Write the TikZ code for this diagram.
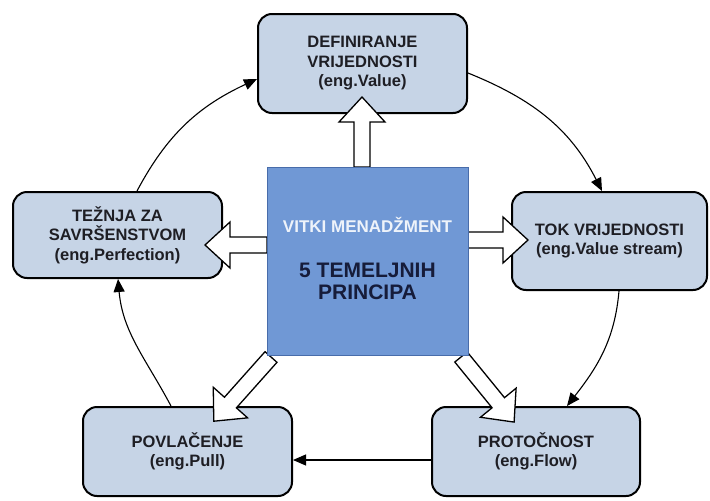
\documentclass[tikz,border=0pt]{standalone}
\usepackage{fontspec}
\setmainfont{Liberation Sans}
\usetikzlibrary{arrows.meta}
\definecolor{boxfill}{RGB}{198,212,230}
\definecolor{corefill}{RGB}{112,152,213}
\definecolor{coreline}{RGB}{72,108,170}
\definecolor{navy}{RGB}{22,28,58}
\definecolor{inktext}{RGB}{30,30,36}
\definecolor{leantext}{RGB}{238,243,250}
% block arrow: tail coordinate, direction angle, total length
\newcommand\fatShaft{8}
\newcommand\fatHead{23}
\newcommand\fatHeadLen{25}
\newcommand\fatarrow[3]{%
  \begin{scope}[shift={(#1)},rotate=#2]
    \draw[fat] (0,-\fatShaft) -- ({#3-\fatHeadLen},-\fatShaft) -- ({#3-\fatHeadLen},-\fatHead)
      -- (#3,0) -- ({#3-\fatHeadLen},\fatHead) -- ({#3-\fatHeadLen},\fatShaft) -- (0,\fatShaft) -- cycle;
  \end{scope}}
\begin{document}
\begin{tikzpicture}[x=1pt,y=1pt,
  stage/.style={draw=black, line width=2pt, fill=boxfill, rounded corners=14pt,
    align=center, font=\fontsize{16.5}{19.5}\selectfont\bfseries, text=inktext, inner sep=0pt},
  core/.style={draw=coreline, line width=1pt, fill=corefill, inner sep=0pt},
  loopline/.style={draw=black, line width=1.1pt, -{Triangle[length=13pt,width=11pt]}},
  fat/.style={draw=black, line width=1.3pt, fill=white, line join=miter}]
\useasboundingbox (0,0) rectangle (710,-501);
\fill[white] (0,0) rectangle (710,-501);

% the five principles
\node[stage, minimum width=209pt, minimum height=99pt] (def) at (362.5,-63.5)
  {DEFINIRANJE\\VRIJEDNOSTI\\(eng.Value)};
\node[stage, minimum width=195pt, minimum height=98pt] (rt) at (609.5,-241)
  {TOK VRIJEDNOSTI\\(eng.Value stream)};
\node[stage, minimum width=208pt, minimum height=89pt] (br) at (536,-451.5)
  {PROTOČNOST\\(eng.Flow)};
\node[stage, minimum width=209pt, minimum height=89pt] (bl) at (187.5,-451.5)
  {POVLAČENJE\\(eng.Pull)};
\node[stage, minimum width=209pt, minimum height=86pt] (lt) at (117.5,-235)
  {TEŽNJA ZA\\SAVRŠENSTVOM\\(eng.Perfection)};

% the cycle between them
\draw[loopline] ([xshift=19.5pt]lt.north) to[out=62,in=205] ([yshift=-15.5pt]def.west);
\draw[loopline] ([yshift=-9.5pt]def.east) to[out=-22,in=117] ([xshift=-7.5pt]rt.north);
\draw[loopline] ([xshift=9.5pt]rt.south) to[out=-95,in=52] ([xshift=31pt]br.north);
\draw[loopline] ([yshift=-8.5pt]br.west) -- ([yshift=-8.5pt]bl.east);
\draw[loopline] ([xshift=-16.5pt]bl.north) to[out=118,in=-85] ([xshift=0.5pt]lt.south);

% hollow arrows from the centre
\coordinate (upT) at (362,-167);
\coordinate (leftT) at (267,-245);
\coordinate (rightT) at (468,-240);
\coordinate (dlT) at (271,-357);
\coordinate (drT) at (461,-357);
\fatarrow{upT}{90}{70}
\fatarrow{leftT}{180}{62}
\fatarrow{rightT}{0}{60}
\fatarrow{dlT}{228.3}{86}
\fatarrow{drT}{-50.8}{84}

% centre square
\node[core, minimum width=201pt, minimum height=188pt] (core) at (367.5,-261) {};
\node[font=\fontsize{17}{20}\selectfont\bfseries, text=leantext, anchor=base, inner sep=0pt]
  (lean) at (367.5,-232) {VITKI MENADŽMENT};
\node[font=\fontsize{21}{24}\selectfont\bfseries, text=navy, anchor=base, inner sep=0pt]
  (five) at (367.5,-277) {5 TEMELJNIH};
\node[font=\fontsize{21}{24}\selectfont\bfseries, text=navy, anchor=base, inner sep=0pt]
  (principa) at (367.5,-299) {PRINCIPA};
\end{tikzpicture}
\end{document}
